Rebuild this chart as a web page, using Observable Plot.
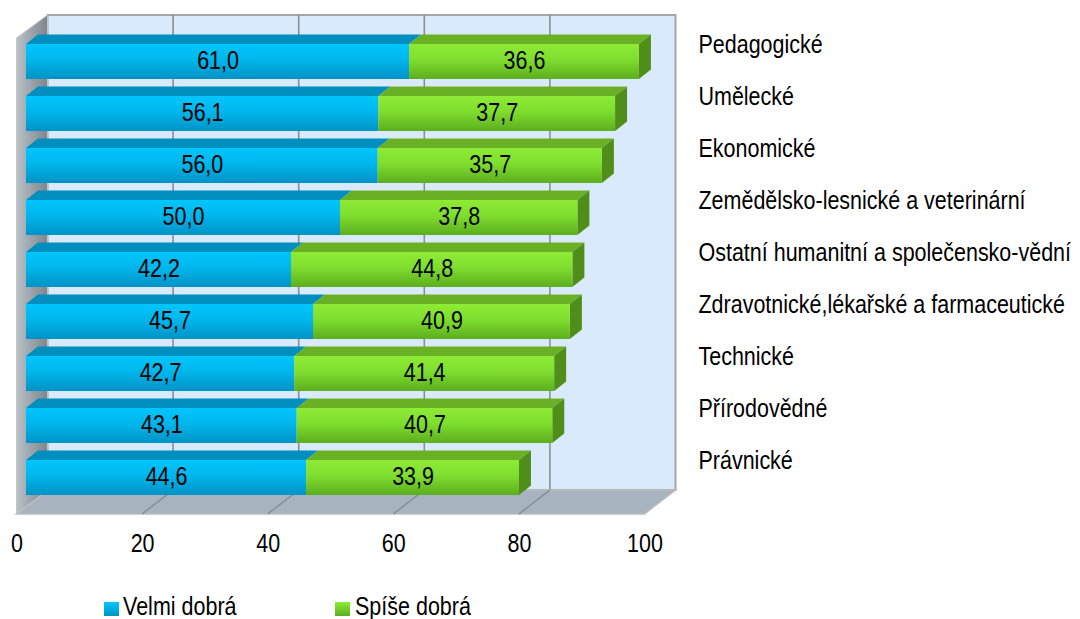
<!DOCTYPE html>
<html><head><meta charset="utf-8">
<script src="https://cdn.jsdelivr.net/npm/d3@7"></script>
<script src="https://cdn.jsdelivr.net/npm/@observablehq/plot@0.6"></script>
<style>
body{margin:0;background:#fff;font-family:"Liberation Sans",Arial,sans-serif;}
#legend{position:relative;height:25px;width:1080px;overflow:visible}
.sw{position:absolute;width:15px;height:14px;}
.lt{position:absolute;font-size:21.5px;line-height:20px;transform:scaleY(1.17);transform-origin:center;color:#000;white-space:nowrap}
</style></head><body>
<div id="chart"></div>
<div id="legend"></div>
<script>
const categories = ["Pedagogické","Umělecké","Ekonomické","Zemědělsko-lesnické a veterinární","Ostatní humanitní a společensko-vědní","Zdravotnické,lékařské a farmaceutické","Technické","Přírodovědné","Právnické"];
const velmiDobra = [61.0,56.1,56.0,50.0,42.2,45.7,42.7,43.1,44.6];
const spiseDobra = [36.6,37.7,35.7,37.8,44.8,40.9,41.4,40.7,33.9];
const seriesNames = ["Velmi dobrá","Spíše dobrá"];
const xTicks = [0,20,40,60,80,100];

const rows = categories.map((c,i)=>({cat:c, v1:velmiDobra[i], v2:spiseDobra[i]}));
const fmt = v => v.toFixed(1).replace(".", ",");

// 3D styling offsets (pixels)
const FRONT_DX = -9.5, BACK_DX = 21.5;   // front plane / back wall relative to bar-front plane
const WALL_DY = 24;                       // depth rise of floor
const BAR_DX = 12, BAR_DY = 9.5;          // bar depth
const SVGNS = "http://www.w3.org/2000/svg";
function el(tag, attrs, parent){const e=document.createElementNS(SVGNS,tag);for(const k in attrs)e.setAttribute(k,attrs[k]);if(parent)parent.appendChild(e);return e;}
function grad(defs,id,stops,horizontal){const g=el("linearGradient",{id,x1:0,y1:0,x2:horizontal?1:0,y2:horizontal?0:1},defs);stops.forEach(([o,c])=>el("stop",{offset:o,"stop-color":c},g));}

function wallsMark(index, scales, values, dims){
  const xs = scales.x;
  const g = el("g",{});
  const defs = el("defs",{},g);
  grad(defs,"gBlue",[[0,"#00C6FC"],[0.45,"#00B6EC"],[1,"#0093C6"]]);
  grad(defs,"gGreen",[[0,"#8EEC36"],[0.45,"#7FDD2E"],[1,"#5CAE1F"]]);
  grad(defs,"gSide",[[0,"#B9C1C9"],[0.35,"#A3ABB3"],[1,"#7D858D"]],true);
  const fy = dims.height - dims.marginBottom;   // front floor edge
  const by = fy - WALL_DY;                       // back floor edge
  const ty = dims.marginTop;                     // wall top
  const x0f = xs(0)+FRONT_DX, x1f = xs(100)+FRONT_DX, x0b = xs(0)+BACK_DX, x1b = xs(100)+BACK_DX;
  el("rect",{x:x0b,y:ty,width:x1b-x0b,height:by-ty,fill:"#D8EAFB",stroke:"#A6A6A6","stroke-width":2},g);
  for(const t of xTicks){ if(t===0||t===100) continue;
    el("line",{x1:xs(t)+BACK_DX,x2:xs(t)+BACK_DX,y1:ty,y2:by,stroke:"#8E8E8E","stroke-width":1.6},g);}
  el("polygon",{points:`${x0f},${fy} ${x1f},${fy} ${x1b},${by} ${x0b},${by}`,fill:"#A7B3BE",stroke:"#BDBDBD","stroke-width":1.5},g);
  for(const t of xTicks){ if(t===0||t===100) continue;
    el("line",{x1:xs(t)+FRONT_DX,y1:fy,x2:xs(t)+BACK_DX,y2:by,stroke:"#7E8891","stroke-width":1.2},g);}
  el("polygon",{points:`${x0f},${ty+WALL_DY-1} ${x0b},${ty} ${x0b},${by} ${x0f},${fy}`,fill:"url(#gSide)",stroke:"#C4C4C4","stroke-width":1},g);
  return g;
}

function facesMark(index, scales, values, dims){
  const xs = scales.x, ys = scales.y;
  const bw = typeof ys.bandwidth === "function" ? ys.bandwidth() : 35;
  const g = el("g",{});
  for(const r of rows){
    const y0 = ys(r.cat);
    const a = xs(0), b = xs(r.v1), c = xs(r.v1 + r.v2);
    el("polygon",{points:`${a},${y0} ${b},${y0} ${b+BAR_DX},${y0-BAR_DY} ${a+BAR_DX},${y0-BAR_DY}`,fill:"#008FBE"},g);
    el("polygon",{points:`${b},${y0} ${c},${y0} ${c+BAR_DX},${y0-BAR_DY} ${b+BAR_DX},${y0-BAR_DY}`,fill:"#6AB024"},g);
    el("polygon",{points:`${c},${y0} ${c+BAR_DX},${y0-BAR_DY} ${c+BAR_DX},${y0+bw-BAR_DY} ${c},${y0+bw}`,fill:"#4F8F19"},g);
  }
  return g;
}

const chart = Plot.plot({
  width: 1080, height: 594,
  marginLeft: 26, marginRight: 426, marginTop: 15, marginBottom: 80,
  x: {domain: [0,100], axis: null},
  y: {domain: categories, range: [41,497], paddingInner: 0.336, paddingOuter: 0, axis: null},
  style: {fontFamily: '"Liberation Sans", Arial, sans-serif', fontSize: "21.5px", color: "#000", background: "transparent", overflow: "visible"},
  marks: [
    wallsMark,
    facesMark,
    Plot.barX(rows, {y: "cat", x1: 0, x2: "v1", fill: "url(#gBlue)"}),
    Plot.barX(rows, {y: "cat", x1: "v1", x2: d => d.v1 + d.v2, fill: "url(#gGreen)"}),
    Plot.text(rows, {y: "cat", x: d => d.v1/2, text: d => fmt(d.v1), dy: -1, fill: "#000"}),
    Plot.text(rows, {y: "cat", x: d => d.v1 + d.v2/2, text: d => fmt(d.v2), dy: -1, fill: "#000"}),
    Plot.text(categories, {y: d => d, frameAnchor: "right", textAnchor: "start", dx: 44, dy: -17, text: d => d, fill: "#000"}),
    Plot.text(xTicks, {x: d => d, frameAnchor: "bottom", dx: FRONT_DX, dy: 36, text: d => String(d), fill: "#000"})
  ]
});
chart.querySelectorAll("text").forEach(t => {
  const tr = t.getAttribute("transform") || "";
  t.setAttribute("transform", tr + " scale(1,1.17)");
  t.style.transformBox = "fill-box";
  t.style.transformOrigin = "center";
});
document.getElementById("chart").appendChild(chart);

const legend = document.getElementById("legend");
const legendItems = [
  {name: seriesNames[0], fill: "linear-gradient(#00C6FC,#0093C6)", sw: 104, tx: 123},
  {name: seriesNames[1], fill: "linear-gradient(#8EEC36,#5CAE1F)", sw: 335, tx: 355}
];
legendItems.forEach(it => {
  const s = document.createElement("div"); s.className = "sw"; s.style.left = it.sw + "px"; s.style.top = "8px"; s.style.background = it.fill; legend.appendChild(s);
  const t = document.createElement("div"); t.className = "lt"; t.style.left = it.tx + "px"; t.style.top = "3px"; t.textContent = it.name; legend.appendChild(t);
});
</script>
</body></html>
